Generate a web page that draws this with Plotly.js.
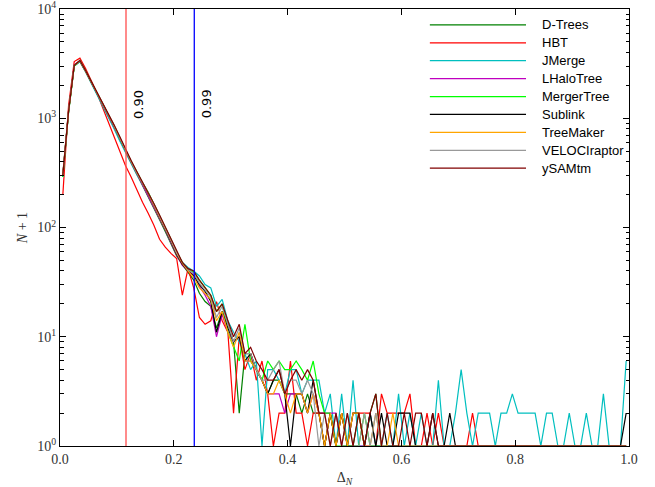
<!DOCTYPE html>
<html><head><meta charset="utf-8">
<script src="https://cdn.plot.ly/plotly-3.0.1.min.js"></script>
<style>html,body{margin:0;padding:0;background:#fff}#chart{width:655px;height:487px}</style>
</head><body><div id="chart"></div>
<script>
// bin layout: 100 bins of width 0.01 on [0,1]
const nBins = 100;
const binWidth = 0.01;

const seriesNames = ['D-Trees','HBT','JMerge','LHaloTree','MergerTree','Sublink','TreeMaker','VELOCIraptor','ySAMtm'];
const seriesColors = ['#008000','#ff0000','#00bfbf','#bf00bf','#00ff00','#000000','#ffa500','#999999','#800000'];

const dTrees = [310,1180,3000,3300,2680,2120,1690,1340,1060,840,
 650,500,395,305,240,190,150,118,92,72,
 55,46,39,33,25,21,19,12,17,13,
 9,2,7,7,5,4,3,4,4,3,
 3,3,2,3,2,2,1,2,1,2,
 1,1,2,1,2,3,1,1,1,1,
 1,1,1,1,1,1,1,1,1,1,
 1,1,1,1,1,1,1,1,1,1,
 1,1,1,1,1,1,1,1,1,1,
 1,1,1,1,1,1,1,1,1,1];
const hbt = [200,1300,3300,3550,2850,2200,1700,1250,920,700,
 520,370,290,220,170,135,105,78,66,58,
 52,24,42,28,15,13,14,21,14,11,
 2,10,5,7,4,6,3,1,2,2,
 6,2,2,1,2,2,1,2,1,2,
 1,2,2,2,2,1,3,2,2,2,
 2,3,1,1,2,1,2,1,1,1,
 1,1,2,1,1,1,1,1,1,1,
 1,1,1,1,1,1,1,1,1,1,
 1,1,1,1,1,1,1,1,1,1];
const jMerge = [290,1130,3000,3300,2650,2100,1650,1300,1020,800,
 620,480,385,305,248,200,158,124,97,76,
 58,48,43,40,36,30,28,19,22,14,
 11,9,7,5,6,1,5,5,4,3,
 5,5,3,4,4,4,2,3,1,3,
 1,4,1,1,2,1,1,2,1,3,
 1,2,1,2,1,1,4,1,1,2,
 5,2,1,2,2,2,1,2,2,3,
 2,2,2,2,1,2,2,1,1,2,
 1,1,2,1,1,3,1,1,1,6];
const lHaloTree = [300,1150,3080,3370,2710,2150,1700,1350,1070,850,
 660,505,398,312,250,200,155,122,95,73,
 56,45,40,37,29,24,19,10,16,11,
 9,10,6,6,5,4,3,3,3,2,
 3,3,3,2,3,2,2,2,2,1,
 1,1,1,1,1,1,1,1,1,1,
 1,1,1,1,1,1,1,1,1,1,
 1,1,1,1,1,1,1,1,1,1,
 1,1,1,1,1,1,1,1,1,1,
 1,1,1,1,1,1,1,1,1,1];
const mergerTree = [290,1120,3000,3380,2720,2170,1720,1360,1080,860,
 670,510,405,320,258,210,165,128,100,78,
 60,48,41,39,33,28,24,17,20,11,
 8,6,13,6,5,4,6,5,6,5,
 5,6,5,4,6,3,2,2,1,1,
 1,1,1,2,1,1,1,1,1,1,
 1,1,1,1,1,1,1,1,1,1,
 1,1,1,1,1,1,1,1,1,1,
 1,1,1,1,1,1,1,1,1,1,
 1,1,1,1,1,1,1,1,1,1];
const sublink = [300,1150,3050,3350,2700,2150,1700,1350,1070,850,
 660,505,400,315,255,205,160,125,97,75,
 57,46,40,36,30,26,21,11,17,12,
 9,10,6,7,5,4,3,4,5,3,
 1,3,3,2,4,2,1,2,1,2,
 1,2,2,1,2,1,2,1,1,2,
 2,2,1,1,1,2,1,1,2,1,
 1,1,1,1,1,1,1,1,1,1,
 1,1,1,1,1,1,1,1,1,1,
 1,1,1,1,1,1,1,1,1,2];
const treeMaker = [300,1150,3050,3350,2700,2150,1700,1350,1070,850,
 660,505,400,315,255,205,160,126,98,76,
 58,47,40,35,28,25,22,14,17,11,
 8,11,6,6,5,4,3,3,4,3,
 2,3,3,2,3,2,1,2,1,2,
 1,2,2,1,1,2,1,1,2,1,
 1,1,1,1,1,1,1,1,1,1,
 1,1,1,1,1,1,1,1,1,1,
 1,1,1,1,1,1,1,1,1,1,
 1,1,1,1,1,1,1,1,1,1];
const velociraptor = [305,1160,3060,3360,2710,2160,1710,1360,1080,860,
 665,510,405,318,258,208,163,128,99,77,
 59,48,41,38,31,27,23,15,19,13,
 9,12,7,7,5,4,4,5,6,3,
 4,4,3,4,3,1,2,1,2,1,
 2,1,1,2,1,2,1,1,1,1,
 1,1,1,1,1,1,1,1,1,1,
 1,1,1,1,1,1,1,1,1,1,
 1,1,1,1,1,1,1,1,1,1,
 1,1,1,1,1,1,1,1,1,1];
const ySAMtm = [300,1150,3050,3380,2730,2180,1730,1380,1100,870,
 680,520,410,325,262,212,166,130,101,78,
 60,48,42,40,33,28,24,17,20,14,
 10,13,7,8,6,5,4,4,5,3,
 4,5,4,5,4,2,2,1,2,1,
 2,1,2,1,2,3,1,2,1,1,
 2,1,2,2,1,2,1,1,1,1,
 1,1,1,1,1,1,1,1,1,1,
 1,1,1,1,1,1,1,1,1,1,
 1,1,1,1,1,1,1,1,1,1];

const seriesValues = [dTrees,hbt,jMerge,lHaloTree,mergerTree,sublink,treeMaker,velociraptor,ySAMtm];

const thresholdX = [0.116, 0.236];
const thresholdLabels = ['0.90','0.99'];
const thresholdColors = ['#ff4d4d','#0000ff'];

const xTickVals = [0,0.2,0.4,0.6,0.8,1.0];
const xTickText = ['0.0','0.2','0.4','0.6','0.8','1.0'];
const yTickVals = [1,10,100,1000,10000];
const yTickText = ['10<sup>0</sup>','10<sup>1</sup>','10<sup>2</sup>','10<sup>3</sup>','10<sup>4</sup>'];
const yMinorMantissas = [2,3,4,5,6,7,8,9];
const yDecades = [1,10,100,1000];

const binCenters = [];
for (let i = 0; i < nBins; i++) binCenters.push(+(binWidth*(i+0.5)).toFixed(4));

const yMinorVals = [];
yDecades.forEach(d => yMinorMantissas.forEach(m => yMinorVals.push(m*d)));

const traces = seriesValues.map((vals, k) => ({
  x: binCenters, y: vals, type: 'scatter', mode: 'lines',
  name: seriesNames[k], line: {color: seriesColors[k], width: 1.2}
}));

const serif = 'Liberation Serif, DejaVu Serif, serif';
const shapes = [];
const annotations = [];
thresholdX.forEach((tx, k) => {
  shapes.push({type:'line', xref:'x', yref:'paper', x0:tx, x1:tx, y0:0, y1:1,
    line:{color:thresholdColors[k], width:1.3}});
  annotations.push({x: tx + 0.021, y: 3.13, xref:'x', yref:'y', text: thresholdLabels[k],
    textangle: -90, showarrow:false, xanchor:'center', yanchor:'middle',
    font:{family:'DejaVu Sans, sans-serif', size:13, color:'#000'}});
});

// custom legend (long sample lines as in the reference)
const legX0 = 0.650, legX1 = 0.819, legTextX = 0.8436, legY0 = 0.9637, legDy = 0.0410;
seriesNames.forEach((nm, k) => {
  const yy = legY0 - k*legDy;
  shapes.push({type:'line', xref:'paper', yref:'paper', x0:legX0, x1:legX1, y0:yy, y1:yy,
    line:{color:seriesColors[k], width:1.3}});
  annotations.push({xref:'paper', yref:'paper', x:legTextX, y:yy, text:nm, showarrow:false,
    xanchor:'left', yanchor:'middle', font:{family:'Liberation Sans, Arial, sans-serif', size:13, color:'#000'}});
});

const layout = {
  width: 655, height: 487,
  margin: {l:60, r:26, t:9, b:41, pad:0},
  paper_bgcolor:'#fff', plot_bgcolor:'#fff',
  showlegend:false,
  xaxis: {range:[0,1], tickmode:'array', tickvals:xTickVals, ticktext:xTickText, ticks:'inside', ticklen:6,
    tickwidth:1, tickcolor:'#000', mirror:'allticks', showline:true, linecolor:'#000', linewidth:1,
    showgrid:false, zeroline:false, tickfont:{family:serif, size:14, color:'#333'},
    title:{text:'Δ<sub><i>N</i></sub>', font:{family:serif, size:14, color:'#333'}, standoff:7}},
  yaxis: {type:'log', range:[0,4], tickmode:'array', tickvals:yTickVals, ticktext:yTickText, ticks:'inside', ticklen:6,
    tickwidth:1, tickcolor:'#000', mirror:'allticks', showline:true, linecolor:'#000', linewidth:1,
    showgrid:false, zeroline:false, ticklabeloverflow:'allow', tickfont:{family:serif, size:14, color:'#333'},
    minor:{tickmode:'array', tickvals:yMinorVals, ticks:'inside', ticklen:3.5, tickwidth:1, tickcolor:'#000', showgrid:false},
    title:{text:'<i>N</i> + 1', font:{family:serif, size:14, color:'#333'}, standoff:6}},
  shapes: shapes,
  annotations: annotations
};

Plotly.newPlot('chart', traces, layout, {displayModeBar:false, staticPlot:true});
</script>
</body></html>
